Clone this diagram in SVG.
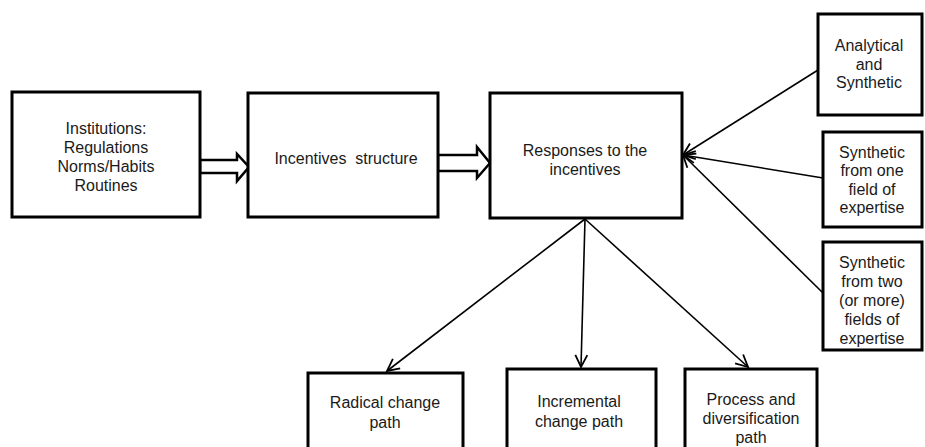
<svg xmlns="http://www.w3.org/2000/svg" width="925" height="447" viewBox="0 0 925 447">
<style>
.box{fill:#fff;stroke:#000;stroke-width:3}
.t{font-family:"Liberation Sans",Arial,sans-serif;font-size:16px;fill:#1a1a1a;text-anchor:middle}
.ln{stroke:#000;stroke-width:1.6;fill:none;marker-end:url(#ah)}
.hol{fill:#fff;stroke:#000;stroke-width:2.5;stroke-linejoin:miter}
</style>
<defs>
<marker id="ah" markerUnits="userSpaceOnUse" markerWidth="16" markerHeight="16" refX="13" refY="7" orient="auto" viewBox="0 0 16 14">
<path d="M1,1 L13,7 L1,13" fill="none" stroke="#000" stroke-width="1.8"/>
</marker>
</defs>
<rect width="925" height="447" fill="#fff"/>
<g id="connectors">
<polygon class="hol" points="200,160 237,160 237,154 249,167 237,181 237,173 200,173"/>
<polygon class="hol" points="438,155 477,155 477,147 490,163 477,178 477,171 438,171"/>
<line class="ln" x1="585" y1="219" x2="387" y2="371"/>
<line class="ln" x1="585" y1="219" x2="581" y2="367"/>
<line class="ln" x1="585" y1="219" x2="748" y2="367"/>
<line class="ln" x1="818" y1="70" x2="683" y2="155"/>
<line class="ln" x1="823" y1="178" x2="683" y2="155"/>
<line class="ln" x1="823" y1="293" x2="683" y2="155"/>
</g>
<g id="institutions">
<rect class="box" x="12" y="92" width="188" height="125"/>
<text class="t" x="106" y="133.5">Institutions:</text>
<text class="t" x="106" y="152.5">Regulations</text>
<text class="t" x="106" y="171.5">Norms/Habits</text>
<text class="t" x="106" y="190.5">Routines</text>
</g>
<g id="incentives">
<rect class="box" x="248" y="93" width="190" height="124"/>
<text class="t" x="346" y="163.5" xml:space="preserve">Incentives  structure</text>
</g>
<g id="responses">
<rect class="box" x="490" y="93" width="192" height="125"/>
<text class="t" x="585" y="155.5">Responses to the</text>
<text class="t" x="585" y="175">incentives</text>
</g>
<g id="analytical">
<rect class="box" x="818" y="14" width="104" height="101"/>
<text class="t" x="869" y="50.5">Analytical</text>
<text class="t" x="869" y="69.5">and</text>
<text class="t" x="869" y="87.5">Synthetic</text>
</g>
<g id="synthetic-one">
<rect class="box" x="823" y="132" width="99" height="95"/>
<text class="t" x="872" y="157.5">Synthetic</text>
<text class="t" x="872" y="176">from one</text>
<text class="t" x="872" y="194.5">field of</text>
<text class="t" x="872" y="213">expertise</text>
</g>
<g id="synthetic-two">
<rect class="box" x="823" y="242" width="99" height="108"/>
<text class="t" x="872" y="267.5">Synthetic</text>
<text class="t" x="872" y="286.5">from two</text>
<text class="t" x="872" y="305.5">(or more)</text>
<text class="t" x="872" y="324.5">fields of</text>
<text class="t" x="872" y="343.5">expertise</text>
</g>
<g id="radical">
<rect class="box" x="308" y="373" width="155" height="100"/>
<text class="t" x="385" y="408">Radical change</text>
<text class="t" x="385" y="428">path</text>
</g>
<g id="incremental">
<rect class="box" x="507" y="369" width="149" height="100"/>
<text class="t" x="579" y="407">Incremental</text>
<text class="t" x="579" y="427">change path</text>
</g>
<g id="process">
<rect class="box" x="685" y="369" width="132" height="100"/>
<text class="t" x="751" y="405">Process and</text>
<text class="t" x="751" y="424">diversification</text>
<text class="t" x="751" y="443">path</text>
</g>
</svg>
